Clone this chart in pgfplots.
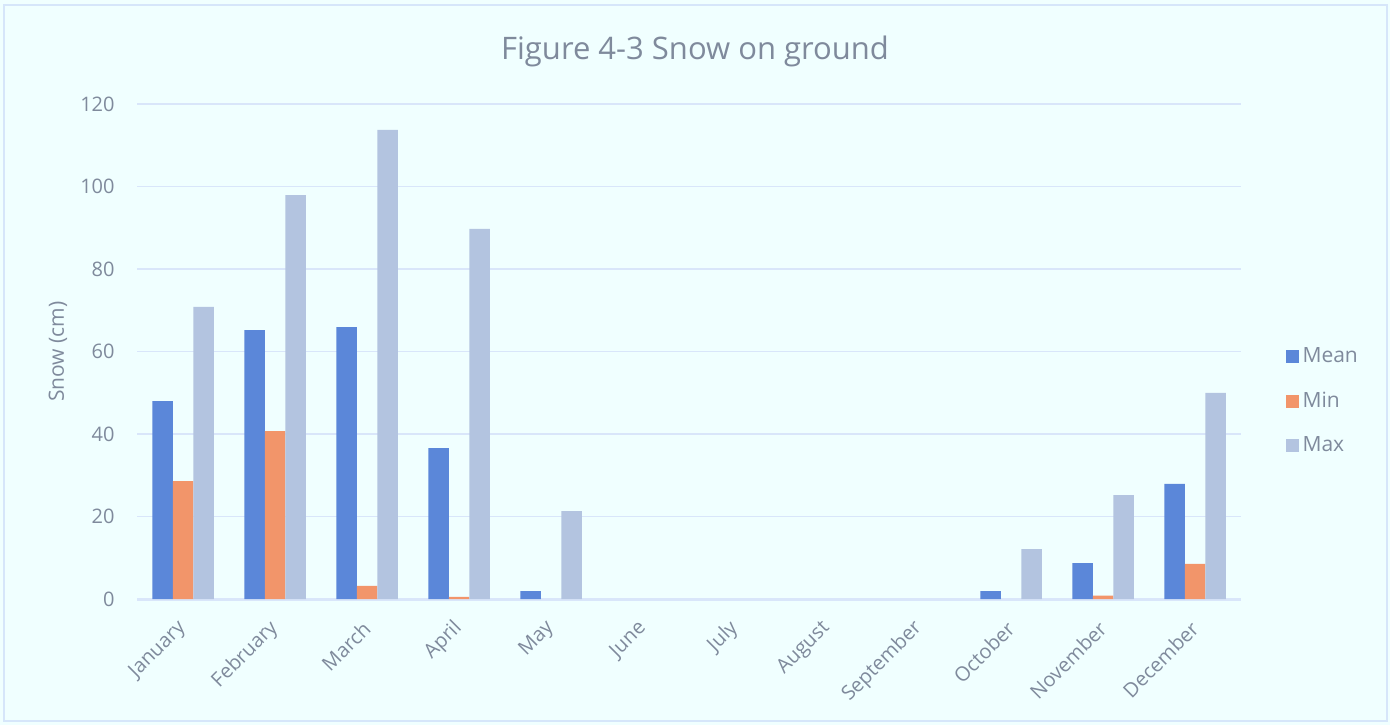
\documentclass[border=0pt]{standalone}
\usepackage{pgfplots}
\pgfplotsset{compat=1.18}
\usepackage{fontspec}
\setmainfont{Open Sans}
\definecolor{bgc}{HTML}{F0FFFF}
\definecolor{framec}{HTML}{D6E6FA}
\definecolor{gridc}{HTML}{D9E6FA}
\definecolor{txt}{HTML}{7F8A9C}
\definecolor{meanc}{HTML}{5B87D9}
\definecolor{minc}{HTML}{F2956A}
\definecolor{maxc}{HTML}{B3C4E0}
\pgfplotstableread{
x mean min max
0 48.0 28.6 70.8
1 65.2 40.7 97.9
2 65.9 3.2 113.7
3 36.6 0.5 89.7
4 1.9 nan 21.3
5 nan nan nan
6 nan nan nan
7 nan nan nan
8 nan nan nan
9 1.9 nan 12.1
10 8.7 0.8 25.2
11 27.9 8.5 50.0
}\snowdata
\begin{document}
\begin{tikzpicture}[x=1pt,y=1pt]
\fill[bgc] (0,0) rectangle (695,362.5);
\draw[framec, line width=1pt] (2,2) rectangle (693.5,360);
\node[txt, font=\fontsize{15.5}{18}\selectfont] at (347.5,337) {Figure 4-3 Snow on ground};
\begin{axis}[
  at={(68.5pt,63pt)}, anchor=south west,
  scale only axis, width=552pt, height=247.5pt,
  xmin=-0.5, xmax=11.5, ymin=0, ymax=120,
  ytick={0,20,...,120},
  xtick={0,...,11},
  xticklabels={January,February,March,April,May,June,July,August,September,October,November,December},
  axis x line*=bottom, axis y line*=left,
  x axis line style={draw=gridc, line width=1.5pt},
  y axis line style={draw=none},
  major tick length=0pt,
  ymajorgrids, grid style={gridc, line width=0.8pt},
  tick label style={font=\fontsize{10}{12}\selectfont, text=txt, inner sep=0pt},
  /pgf/number format/assume math mode=true,
  yticklabel shift=11pt,
  xticklabel style={rotate=45, anchor=east},
  xticklabel shift=13pt,
  ylabel={Snow (cm)},
  every axis y label/.style={at={(axis description cs:-0.0716,0.5)}, rotate=90, anchor=center, font=\fontsize{10.5}{12}\selectfont, text=txt},
  ybar=0pt, bar width=10.25pt,
  unbounded coords=discard,
  legend style={at={(axis description cs:1.04,0.4)}, anchor=west, draw=none, fill=none, inner sep=0pt,
    font=\fontsize{10.5}{12}\selectfont, text=txt, row sep=9pt},
  legend cell align=left,
  legend image code/.code={\fill[#1] (0pt,-3.25pt) rectangle (6.5pt,3.25pt);},
  every even column/.style={column sep=0pt},
]
\addplot[fill=meanc, draw=none] table[x=x,y=mean] {\snowdata};
\addplot[fill=minc, draw=none] table[x=x,y=min] {\snowdata};
\addplot[fill=maxc, draw=none] table[x=x,y=max] {\snowdata};
\legend{Mean,Min,Max}
\end{axis}
\end{tikzpicture}
\end{document}
